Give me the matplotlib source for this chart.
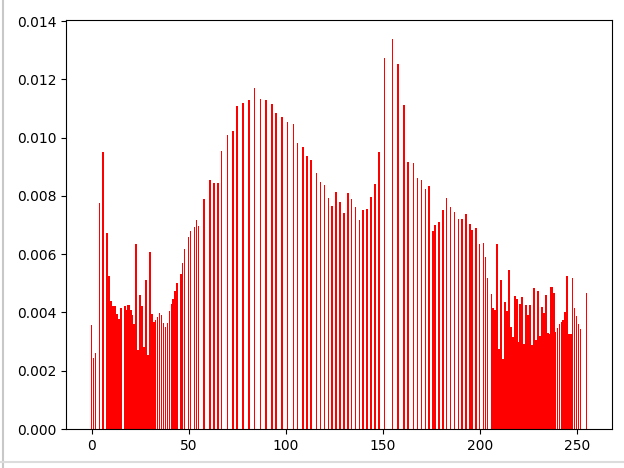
import matplotlib
matplotlib.use("Agg")
import matplotlib.pyplot as plt
from matplotlib.lines import Line2D

# grey levels that carry pixels, and their normalised frequency
levels_low = [0, 1, 2, 4, 6, 8, 9, 10, 11, 12, 13, 14, 15, 17, 18, 19, 20, 21, 22,
              23, 24, 25, 26, 27, 28, 29, 30, 31, 32, 33, 34, 35, 36, 37, 38, 39,
              40, 41, 42, 43, 44, 46, 47, 48, 50, 51, 53, 54, 55]
freq_low = [0.00356, 0.00243, 0.00260, 0.00777, 0.00952, 0.00672, 0.00525, 0.00440,
            0.00422, 0.00422, 0.00395, 0.00377, 0.00415, 0.00423, 0.00410, 0.00427,
            0.00407, 0.00392, 0.00360, 0.00636, 0.00270, 0.00459, 0.00421, 0.00280,
            0.00512, 0.00253, 0.00609, 0.00394, 0.00367, 0.00375, 0.00385, 0.00399,
            0.00390, 0.00364, 0.00350, 0.00364, 0.00405, 0.00430, 0.00445, 0.00472,
            0.00501, 0.00533, 0.00569, 0.00618, 0.00660, 0.00681, 0.00693, 0.00718,
            0.00698]

levels_mid = [58, 61, 63, 65, 67, 70, 73, 75, 78, 81, 84, 87, 90, 93, 95, 98, 101,
              104, 106, 109, 111, 113, 116, 118, 120, 122, 124, 126, 128, 130, 132,
              134, 136, 138, 140, 142, 144, 146, 148, 151, 155, 158, 161, 163, 166,
              168, 170, 172, 174, 176, 177, 179, 181, 183, 185, 187, 189, 191, 193,
              195, 196, 198, 200, 202, 203, 204, 206, 207]
freq_mid = [0.00790, 0.00855, 0.00845, 0.00845, 0.00955, 0.01010, 0.01022, 0.01109,
            0.01118, 0.01128, 0.01170, 0.01132, 0.01128, 0.01115, 0.01084, 0.01071,
            0.01054, 0.01048, 0.00982, 0.00969, 0.00938, 0.00923, 0.00879, 0.00849,
            0.00836, 0.00792, 0.00767, 0.00812, 0.00778, 0.00743, 0.00809, 0.00788,
            0.00762, 0.00718, 0.00750, 0.00755, 0.00796, 0.00842, 0.00952, 0.01272,
            0.01337, 0.01252, 0.01113, 0.00915, 0.00912, 0.00863, 0.00855, 0.00824,
            0.00833, 0.00680, 0.00700, 0.00712, 0.00750, 0.00793, 0.00761, 0.00744,
            0.00721, 0.00721, 0.00738, 0.00704, 0.00684, 0.00690, 0.00636, 0.00640,
            0.00592, 0.00519, 0.00464, 0.00417]

levels_high = list(range(208, 253)) + [255]
freq_high = [0.00407, 0.00636, 0.00276, 0.00510, 0.00240, 0.00436, 0.00404, 0.00547,
             0.00350, 0.00316, 0.00455, 0.00447, 0.00297, 0.00428, 0.00453, 0.00291,
             0.00427, 0.00390, 0.00424, 0.00288, 0.00485, 0.00307, 0.00472, 0.00319,
             0.00419, 0.00398, 0.00459, 0.00330, 0.00325, 0.00487, 0.00468, 0.00333,
             0.00345, 0.00359, 0.00367, 0.00375, 0.00400, 0.00525, 0.00325, 0.00325,
             0.00519, 0.00417, 0.00387, 0.00362, 0.00342, 0.00468]

levels = levels_low + levels_mid + levels_high
freq = freq_low + freq_mid + freq_high


# style: contiguous runs are drawn solid, thinner stripes in the pale runs
def bar_width(b):
    if 8 <= b <= 32 or 208 <= b <= 238:
        return 1.15
    if 33 <= b <= 55 or 239 <= b <= 252:
        return 0.65
    return 0.8


widths = [bar_width(b) for b in levels]

fig = plt.figure(figsize=(6.24, 4.68), dpi=100)
ax = fig.add_axes([0.1058, 0.0833, 0.875, 0.874])
ax.bar(levels, freq, width=widths, color='red')
ax.set_xlim(-13.2, 268.2)

# screenshot frame edges
fig.add_artist(Line2D([0.005, 0.005], [0, 1], transform=fig.transFigure,
                      color='#c8c8c8', linewidth=1.5))
fig.add_artist(Line2D([0, 1], [0.012, 0.012], transform=fig.transFigure,
                      color='#dcdcdc', linewidth=1.5))

fig.savefig("out.png", dpi=100)
